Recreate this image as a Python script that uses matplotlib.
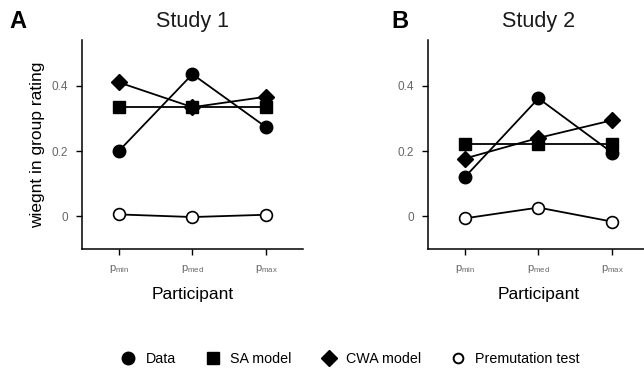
import matplotlib
matplotlib.use("Agg")
import matplotlib.pyplot as plt
from matplotlib.lines import Line2D

plt.rcParams['font.family'] = ['Liberation Sans', 'DejaVu Sans']

# 參與者類別
participants = [r'p$_{\mathregular{min}}$', r'p$_{\mathregular{med}}$', r'p$_{\mathregular{max}}$']

# Study 1
s1_data = [0.20, 0.435, 0.273]
s1_sa = [0.334, 0.334, 0.334]
s1_cwa = [0.41, 0.334, 0.366]
s1_perm = [0.006, -0.002, 0.005]

# Study 2
s2_data = [0.12, 0.361, 0.195]
s2_sa = [0.221, 0.221, 0.221]
s2_cwa = [0.177, 0.240, 0.294]
s2_perm = [-0.006, 0.027, -0.016]

yticks = [0, 0.2, 0.4]
ytick_labels = ['0', '0.2', '0.4']

fig = plt.figure(figsize=(6.44, 3.69), dpi=100)
axA = fig.add_axes([0.1273, 0.325, 0.343, 0.567])
axB = fig.add_axes([0.6646, 0.325, 0.343, 0.567])

x = list(range(len(participants)))

def draw(ax, data, sa, cwa, perm, title):
    lw = 1.3
    ax.plot(x, sa, color='black', lw=lw, marker='s', ms=8.5, mfc='black', mec='black', zorder=3)
    ax.plot(x, cwa, color='black', lw=lw, marker='D', ms=8, mfc='black', mec='black', zorder=4)
    ax.plot(x, data, color='black', lw=lw, marker='o', ms=9, mfc='black', mec='black', zorder=5)
    ax.plot(x, perm, color='black', lw=lw, marker='o', ms=8.5, mfc='white', mec='black', mew=1.2, zorder=5)
    ax.set_xlim(-0.5, 2.5)
    ax.set_ylim(-0.1, 0.54)
    ax.set_xticks(x)
    ax.set_xticklabels(participants, fontsize=8, color='#666666')
    ax.set_yticks(yticks)
    ax.set_yticklabels(ytick_labels, fontsize=8.5, color='#666666')
    ax.spines['top'].set_visible(False)
    ax.spines['right'].set_visible(False)
    ax.spines['left'].set_linewidth(1.1)
    ax.spines['bottom'].set_linewidth(1.1)
    ax.tick_params(axis='both', direction='out', length=4, width=1, color='black', pad=6)
    ax.set_xlabel('Participant', fontsize=12.5, labelpad=9)
    ax.set_title(title, fontsize=15.5, pad=9, color='#1a1a1a')

draw(axA, s1_data, s1_sa, s1_cwa, s1_perm, 'Study 1')
draw(axB, s2_data, s2_sa, s2_cwa, s2_perm, 'Study 2')
axA.set_ylabel('wiegnt in group rating', fontsize=12.5, labelpad=5)

fig.text(0.015, 0.925, 'A', fontsize=17, fontweight='bold')
fig.text(0.608, 0.925, 'B', fontsize=17, fontweight='bold')

handles = [
    Line2D([], [], ls='none', marker='o', ms=9, mfc='black', mec='black'),
    Line2D([], [], ls='none', marker='s', ms=8.5, mfc='black', mec='black'),
    Line2D([], [], ls='none', marker='D', ms=8, mfc='black', mec='black'),
    Line2D([], [], ls='none', marker='o', ms=7, mfc='white', mec='black', mew=1.4),
]
labels = ['Data', 'SA model', 'CWA model', 'Premutation test']
fig.legend(handles, labels, loc='center', bbox_to_anchor=(0.543, 0.027), ncol=4,
           frameon=False, fontsize=10.3, handlelength=1.2, handletextpad=0.6, columnspacing=2.0)

fig.savefig('out.png', dpi=100)
